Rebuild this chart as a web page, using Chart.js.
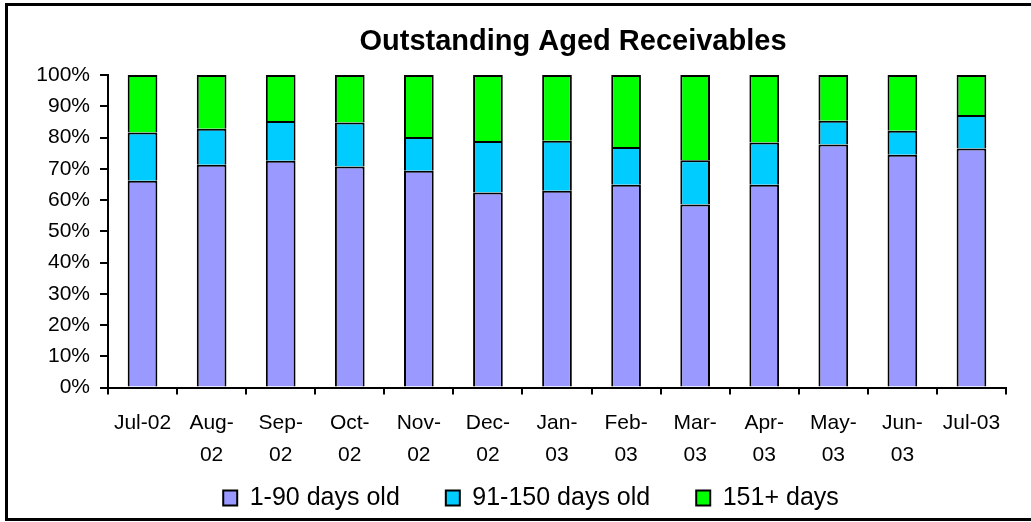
<!DOCTYPE html>
<html>
<head>
<meta charset="utf-8">
<script src="https://cdn.jsdelivr.net/npm/chart.js@4.4.1/dist/chart.umd.min.js"></script>
<style>
  html, body { margin: 0; padding: 0; background: #fff; overflow: hidden; }
  #wrap { position: relative; width: 1031px; height: 522px; }
  #frame {
    position: absolute; left: 5px; top: 3px; width: 1100px; height: 512px;
    border-left: 3px solid #000; border-top: 3px solid #000; border-bottom: 3px solid #000;
    pointer-events: none;
  }
</style>
</head>
<body>
<div id="wrap">
  <canvas id="agedChart" width="1031" height="522"></canvas>
  <div id="frame"></div>
</div>
<script>
// Chart data
const chartTitle = "Outstanding Aged Receivables";
const months = ["Jul-02", ["Aug-", "02"], ["Sep-", "02"], ["Oct-", "02"], ["Nov-", "02"], ["Dec-", "02"],
  ["Jan-", "03"], ["Feb-", "03"], ["Mar-", "03"], ["Apr-", "03"], ["May-", "03"], ["Jun-", "03"], "Jul-03"];
const days1to90 = [66.2, 71.3, 72.6, 70.7, 69.4, 62.4, 63.0, 64.9, 58.6, 64.9, 77.8, 74.5, 76.5];
const days91to150 = [15.4, 11.5, 12.7, 14.1, 10.8, 16.5, 16.0, 12.1, 14.1, 13.5, 7.6, 7.7, 10.7];
const days151plus = [18.4, 17.2, 14.7, 15.2, 19.8, 21.1, 21.0, 23.0, 27.3, 21.6, 14.6, 17.8, 12.8];

const FONT = "'Liberation Sans', Arial, sans-serif";

// title drawn over the plot, Excel puts it slightly right of centre
const titlePlugin = {
  id: "excelTitle",
  afterDraw(chart) {
    const ctx = chart.ctx;
    ctx.save();
    ctx.font = "bold 29px " + FONT;
    ctx.fillStyle = "#000";
    ctx.textAlign = "center";
    ctx.textBaseline = "middle";
    ctx.fillText(chartTitle, 573, 42);
    ctx.restore();
  },
};

function makeSet(label, data, color) {
  return {
    label: label,
    data: data,
    backgroundColor: color,
    borderColor: "#000",
    borderWidth: 2,
    barPercentage: 0.43,
    categoryPercentage: 1,
  };
}

const ctx = document.getElementById("agedChart").getContext("2d");
new Chart(ctx, {
  type: "bar",
  data: {
    labels: months,
    datasets: [
      makeSet("1-90 days old", days1to90, "#9999FF"),
      makeSet("91-150 days old", days91to150, "#00CCFF"),
      makeSet("151+ days", days151plus, "#00FF00"),
    ],
  },
  plugins: [titlePlugin],
  options: {
    responsive: false,
    animation: false,
    // negative right padding + empty right axis: legend centred like the Excel one
    layout: { padding: { top: 75, left: 0, right: -31, bottom: 1.5 } },
    plugins: {
      title: { display: false },
      tooltip: { enabled: false },
      legend: {
        display: true,
        position: "bottom",
        labels: {
          color: "#000",
          font: { family: FONT, size: 25 },
          boxWidth: 14,
          boxHeight: 15,
          padding: 46,
        },
      },
    },
    scales: {
      x: {
        stacked: true,
        afterFit: (scale) => { scale.height = 52; },
        grid: {
          display: true,
          drawOnChartArea: false,
          drawTicks: true,
          tickLength: 7,
          color: "#000",
          lineWidth: 2,
        },
        border: { display: true, color: "#000", width: 2 },
        ticks: {
          color: "#000",
          font: { family: FONT, size: 21, lineHeight: 1.5 },
          // mirror keeps the two-line labels from being clipped by the short axis box
          mirror: true,
          padding: -51.5,
          maxRotation: 0,
          autoSkip: false,
        },
      },
      y: {
        stacked: true,
        min: 0,
        max: 100,
        afterFit: (scale) => { scale.width = 108; },
        grid: {
          display: true,
          drawOnChartArea: false,
          drawTicks: true,
          tickLength: 8,
          color: "#000",
          lineWidth: 2,
        },
        border: { display: true, color: "#000", width: 2 },
        ticks: {
          stepSize: 10,
          color: "#000",
          font: { family: FONT, size: 21 },
          padding: 10,
          callback: (v) => v + "%",
        },
      },
      yRight: {
        position: "right",
        display: true,
        afterFit: (scale) => { scale.width = 56; },
        grid: { display: false },
        border: { display: false },
        ticks: { display: false },
      },
    },
  },
});
</script>
</body>
</html>
